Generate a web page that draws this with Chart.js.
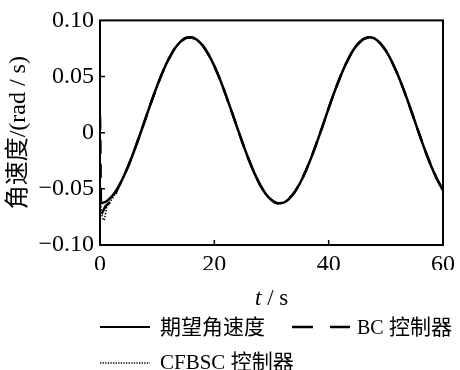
<!DOCTYPE html>
<html>
<head>
<meta charset="utf-8">
<script src="https://cdn.jsdelivr.net/npm/chart.js@4/dist/chart.umd.min.js"></script>
<style>
  html, body { margin: 0; padding: 0; background: #fff; }
  #wrap { position: relative; width: 460px; height: 370px; overflow: hidden; }
  #c { position: absolute; left: 0; top: 0; }
  .txt { position: absolute; font-family: 'Liberation Serif', 'Noto Sans CJK SC', serif; font-size: 21px; color: #000; white-space: nowrap; line-height: 1; }
  svg.sample { position: absolute; }
</style>
</head>
<body>
<div id="wrap">
  <canvas id="c" width="460" height="370"></canvas>
  <div class="txt" id="xtitle" style="left:255px; top:286px; font-size:23px;"><i>t</i> / s</div>
  <svg class="sample" style="left:99px; top:320px;" width="55" height="14"><line x1="1" y1="7" x2="51" y2="7" stroke="#000" stroke-width="2.2"/></svg>
  <div class="txt" id="lg1" style="left:160px; top:317px;">期望角速度</div>
  <svg class="sample" style="left:290px; top:320px;" width="64" height="14"><line x1="2" y1="7" x2="23" y2="7" stroke="#000" stroke-width="2.5"/><line x1="40" y1="7" x2="60" y2="7" stroke="#000" stroke-width="2.5"/></svg>
  <div class="txt" id="lg2" style="left:357px; top:317px;"><span style="font-size:20px">BC</span> 控制器</div>
  <svg class="sample" style="left:99px; top:356px;" width="55" height="14"><line x1="1" y1="7" x2="51" y2="7" stroke="#000" stroke-width="1.3" stroke-dasharray="1.3 1.3"/></svg>
  <div class="txt" id="lg3" style="left:160px; top:352px;">CFBSC 控制器</div>
</div>
<script>
// time axis (s)
const tDesired = [0,1,2,3,4,5,6,7,8,9,10,11,12,13,14,15,16,17,18,19,20,21,22,23,24,25,26,27,28,29,30,
  31,32,33,34,35,36,37,38,39,40,41,42,43,44,45,46,47,48,49,50,51,52,53,54,55,56,57,58,59,60];
// desired angular velocity (rad/s)
const vDesired = [-0.0630,-0.0615,-0.0572,-0.0501,-0.0406,-0.0290,-0.0158,-0.0016,0.0131,0.0278,0.0418,
  0.0546,0.0655,0.0744,0.0807,0.0843,0.0849,0.0826,0.0774,0.0695,0.0594,
  0.0473,0.0337,0.0193,0.0046,-0.0100,-0.0237,-0.0360,-0.0464,-0.0546,-0.0600,
  -0.0628,-0.0625,-0.0593,-0.0533,-0.0448,-0.0340,-0.0215,-0.0077,0.0068,0.0218,
  0.0362,0.0494,0.0612,0.0710,0.0784,0.0832,0.0850,0.0839,0.0798,0.0731,
  0.0639,0.0527,0.0399,0.0260,0.0113,-0.0034,-0.0176,-0.0305,-0.0418,-0.0514];
// BC controller start-up transient
const tBC = [0,0.04,0.08,0.12,0.16,0.2,0.4,0.7,1.0,1.5,2.0,2.5,3.0];
const vBC = [0.015,0.004,-0.020,-0.045,-0.062,-0.069,-0.071,-0.068,-0.065,-0.063,-0.061,-0.057,-0.051];
// CFBSC controller start-up transient
const tCF = [0,0.1,0.2,0.4,0.6,0.8,1.0,1.2,1.5,2.0,2.5,3.0];
const vCF = [-0.052,-0.060,-0.068,-0.075,-0.078,-0.077,-0.071,-0.066,-0.063,-0.060,-0.056,-0.051];
// axis ticks
const xTicks = [0,20,40,60];
const yTicks = [-0.10,-0.05,0,0.05,0.10];

function pts(ts, vs) { return ts.map((t, i) => ({x: t, y: vs[i]})); }
function withTail(ts, vs) {
  const head = pts(ts, vs);
  const last = ts[ts.length - 1];
  return head.concat(pts(tDesired, vDesired).filter(p => p.x > last));
}

const FONT = "'Liberation Serif', 'Noto Sans CJK SC', serif";
Chart.defaults.font.family = FONT;
Chart.defaults.color = '#000';

function fmtY(v) {
  if (Math.abs(v) < 1e-9) return '0';
  const s = Math.abs(v).toFixed(2);
  return (v < 0 ? '\u2212' : '') + s;
}

const framePlugin = {
  id: 'frame',
  afterDatasetsDraw(chart) {
    const {ctx, chartArea: a, scales} = chart;
    ctx.save();
    ctx.strokeStyle = '#000';
    ctx.lineWidth = 2;
    ctx.strokeRect(a.left, a.top, a.right - a.left, a.bottom - a.top);
    ctx.lineWidth = 1.5;
    ctx.beginPath();
    xTicks.slice(1, -1).forEach(v => {
      const px = scales.x.getPixelForValue(v);
      ctx.moveTo(px, a.bottom); ctx.lineTo(px, a.bottom - 5);
    });
    yTicks.slice(1, -1).forEach(v => {
      const py = scales.y.getPixelForValue(v);
      ctx.moveTo(a.left, py); ctx.lineTo(a.left + 5, py);
    });
    ctx.stroke();
    ctx.restore();
  }
};

new Chart(document.getElementById('c'), {
  type: 'line',
  data: {
    datasets: [
      { label: 'CFBSC 控制器', data: withTail(tCF, vCF), borderColor: '#000', borderWidth: 1.5, borderDash: [1.5, 1.5], pointRadius: 0, tension: 0 },
      { label: 'BC 控制器', data: withTail(tBC, vBC), borderColor: '#000', borderWidth: 2.5, borderDash: [14, 10], pointRadius: 0, tension: 0 },
      { label: '期望角速度', data: pts(tDesired, vDesired), borderColor: '#000', borderWidth: 2.5, pointRadius: 0, cubicInterpolationMode: 'monotone' }
    ]
  },
  options: {
    responsive: false,
    animation: false,
    events: [],
    layout: { padding: { left: 0, right: 12, top: 19, bottom: 100 } },
    plugins: { legend: { display: false }, tooltip: { enabled: false } },
    scales: {
      x: {
        type: 'linear', min: 0, max: 60,
        afterBuildTicks: s => { s.ticks = xTicks.map(v => ({value: v})); },
        afterFit: s => { s.height = 25; },
        grid: { display: false, drawTicks: false },
        border: { display: false },
        ticks: { padding: 5, font: { size: 24 }, color: '#000', maxRotation: 0 }
      },
      y: {
        min: -0.1, max: 0.1,
        afterBuildTicks: s => { s.ticks = yTicks.map(v => ({value: v})); },
        afterFit: s => { s.width = 100; },
        grid: { display: false, drawTicks: false },
        border: { display: false },
        ticks: { padding: 6, font: { size: 24 }, color: '#000', callback: v => fmtY(v) },
        title: { display: true, text: '角速度/(rad / s)', font: { size: 24 }, color: '#000', padding: { top: 4, bottom: 0 } }
      }
    }
  },
  plugins: [framePlugin]
});
</script>
</body>
</html>
